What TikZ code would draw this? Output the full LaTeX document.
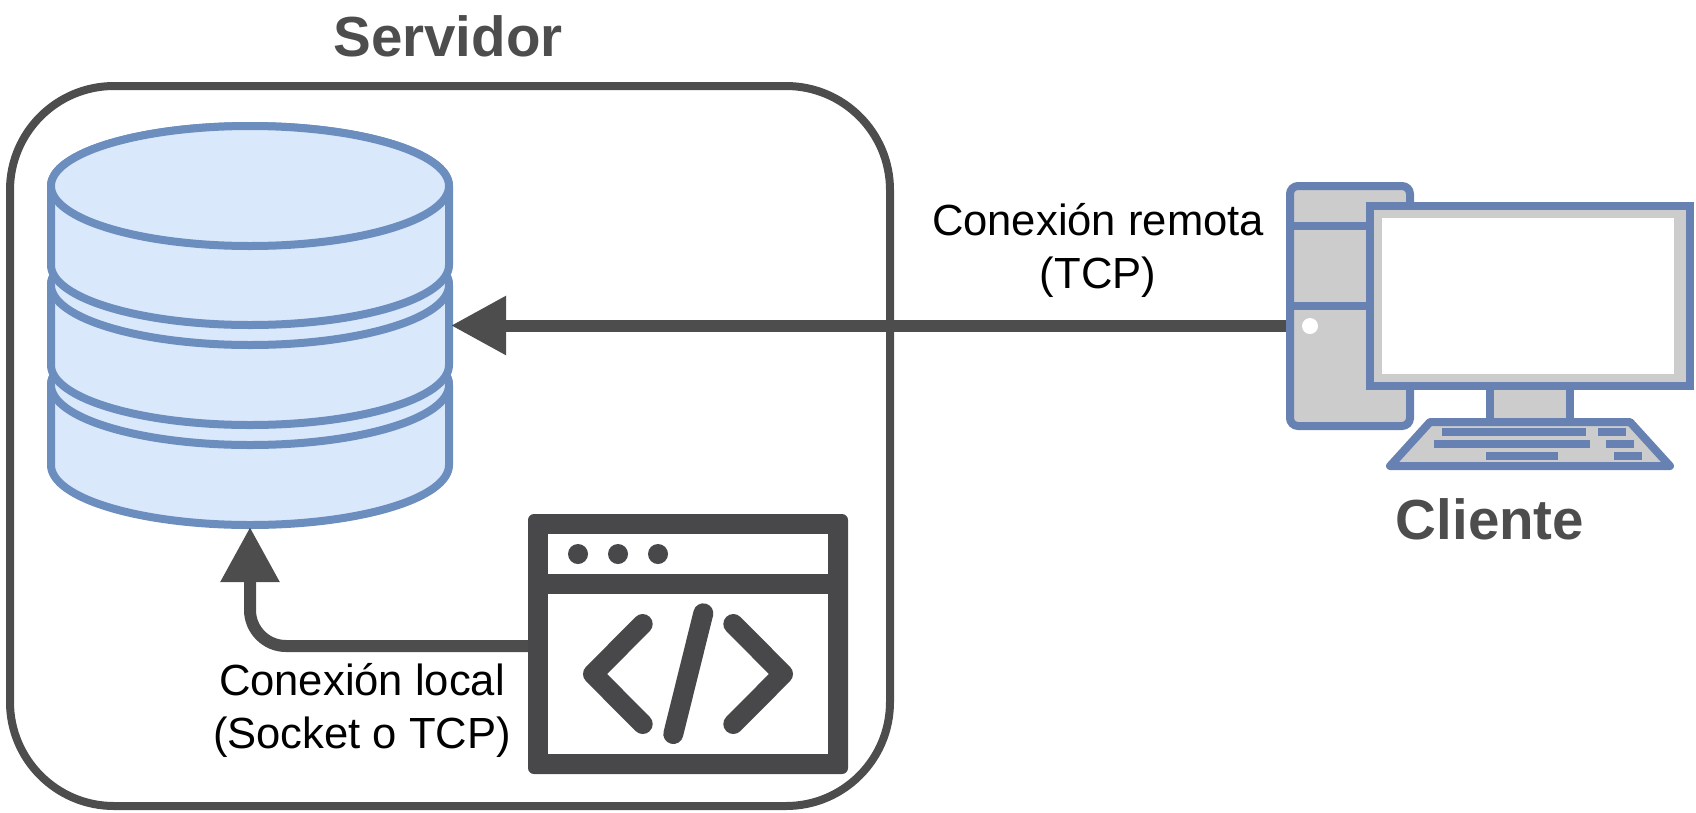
\documentclass[tikz,border=0pt]{standalone}
\usepackage{fontspec}
\setmainfont{Liberation Sans}
\usetikzlibrary{arrows.meta}
\definecolor{dark}{HTML}{4D4D4D}
\definecolor{icon}{HTML}{48484A}
\definecolor{dbline}{HTML}{6C8EBF}
\definecolor{dbfill}{HTML}{DAE8FC}
\definecolor{pcline}{HTML}{6881B3}
\definecolor{pcfill}{HTML}{CCCCCC}
\tikzset{
  anchorbox/.style={inner sep=0pt,outer sep=0pt,minimum width=#1},
  disk/.style={draw=dbline,fill=dbfill,line width=8pt,line join=round},
  pcpart/.style={draw=pcline,fill=pcfill,line width=8pt},
  pckey/.style={fill=pcline},
  link/.style={draw=dark,line width=12pt,-{Triangle[length=55pt,width=56pt]}},
  codeglyph/.style={draw=icon,line width=20pt,line cap=round,line join=round},
  title/.style={font=\fontsize{56.5}{60}\selectfont\bfseries,text=dark,inner sep=0pt},
  caption/.style={font=\fontsize{43.6}{53}\selectfont,align=center,inner sep=0pt,text=black}
}
\newcommand{\dbdisk}[2]{%
  \path[disk] (51,#1) -- (51,#2) arc[start angle=180,end angle=360,x radius=199pt,y radius=60pt]
    -- (449,#1) arc[start angle=0,end angle=180,x radius=199pt,y radius=60pt] -- cycle;
  \path[disk] (250,#1) ellipse[x radius=199pt,y radius=60pt];
}
\begin{document}
\begin{tikzpicture}[x=1pt,y=-1pt]
\useasboundingbox (0,0) rectangle (1696,812);
% anchors
\node[anchorbox=402pt,minimum height=403pt] (db) at (250,325.5) {};
\node[anchorbox=408pt,minimum height=288pt] (pc) at (1490,326) {};
\node[anchorbox=320pt,minimum height=260pt] (app) at (688,644) {};
% server box
\draw[draw=dark,line width=8pt,rounded corners=104pt] (10,86) rectangle (890,806);
% database
\dbdisk{385}{465}
\dbdisk{285}{365}
\dbdisk{186}{265}
% connectors
\draw[link] (pc.west |- db.east) -- (db.east);
\draw[link,rounded corners=36pt] ([yshift=-2pt]app.west) -| (db.south);
% application icon
\fill[icon,rounded corners=6pt] (528,514) rectangle (848,774);
\fill[white] (547.6,534) rectangle (828.4,574);
\fill[white] (547.6,594) rectangle (828.4,753.6);
\foreach \x in {578,618,658} \fill[icon] (\x,554) circle[radius=10pt];
\draw[codeglyph] (642.7,624) -- (593,674) -- (642.7,724);
\draw[codeglyph] (733.3,624) -- (783,674) -- (733.3,724);
\draw[codeglyph] (703.3,613.3) -- (673.3,734);
% computer
\draw[pcpart,rounded corners=8pt] (1290,186) rectangle (1410,426);
\draw[draw=pcline,line width=8pt] (1290,226) -- (1370,226) (1290,306) -- (1370,306);
\fill[white] (1310,326) circle[radius=8pt];
\draw[pcpart] (1370,206) rectangle (1690,386);
\fill[white] (1382,218) rectangle (1674,374);
\draw[pcpart] (1490,386) rectangle (1570,422);
\draw[pcpart,line join=round] (1430,422) -- (1630,422) -- (1670,466) -- (1390,466) -- cycle;
\fill[pckey] (1442,428) rectangle (1586,436);
\fill[pckey] (1598,428) rectangle (1626,436);
\fill[pckey] (1434,440) rectangle (1590,448);
\fill[pckey] (1606,440) rectangle (1634,448);
\fill[pckey] (1486,452) rectangle (1558,460);
\fill[pckey] (1614,452) rectangle (1642,460);
% labels
\node[title,anchor=base] (servidor) at (448,56) {Servidor};
\node[title,anchor=base] (cliente) at (1490,539) {Cliente};
\node[caption] (remota) at (1098,250) {Conexión remota\\(TCP)};
\node[caption] (local) at (362,710) {Conexión local\\(Socket o TCP)};
\end{tikzpicture}
\end{document}
